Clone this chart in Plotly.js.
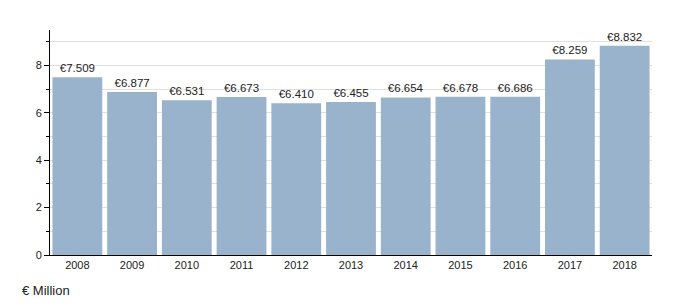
<!DOCTYPE html>
<html><head><meta charset="utf-8">
<script src="https://cdn.plot.ly/plotly-3.0.1.min.js"></script>
<style>html,body{margin:0;padding:0;background:#fff}</style>
</head><body><div id="chart" style="width:680px;height:305px"></div>
<script>
const years = ['2008','2009','2010','2011','2012','2013','2014','2015','2016','2017','2018'];
const values = [7.509, 6.877, 6.531, 6.673, 6.410, 6.455, 6.654, 6.678, 6.686, 8.259, 8.832];
const labels = values.map(v => '€' + v.toFixed(3));
const unitLabel = '€ Million';

Plotly.newPlot('chart', [{
  type: 'bar', x: years, y: values, text: labels, textposition: 'outside',
  cliponaxis: false,
  textfont: {family: 'Liberation Sans, Arial, sans-serif', size: 11.5, color: '#222'},
  marker: {color: '#9ab3cc'}, hoverinfo: 'none'
}], {
  width: 680, height: 305,
  margin: {l: 50, r: 28, t: 30, b: 50},
  paper_bgcolor: '#fff', plot_bgcolor: '#fff',
  bargap: 0.09,
  font: {family: 'Liberation Sans, Arial, sans-serif', size: 11, color: '#222'},
  xaxis: {type: 'category', showline: true, linecolor: '#000', linewidth: 1, ticks: '', tickfont: {size: 11}, fixedrange: true},
  yaxis: {range: [0, 9.5], dtick: 2, showline: true, linecolor: '#000', linewidth: 1,
    ticks: 'outside', ticklen: 5, tickcolor: '#000', showgrid: true, gridcolor: '#e0e0e0',
    zeroline: false, tickfont: {size: 11},
    minor: {dtick: 1, showgrid: true, gridcolor: '#e0e0e0', ticks: 'outside', ticklen: 3, tickcolor: '#000'}},
  annotations: [{text: unitLabel, xref: 'paper', yref: 'paper', x: -0.05, y: -0.115, xanchor: 'left', yanchor: 'top',
    showarrow: false, font: {size: 13, color: '#222'}}],
  showlegend: false
}, {displayModeBar: false, staticPlot: true});
</script></body></html>
